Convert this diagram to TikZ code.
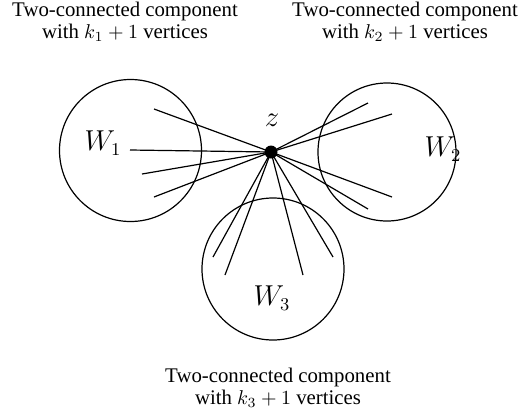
\documentclass[tikz,border=0pt]{standalone}
\usepackage[no-math]{fontspec}
\setmainfont{Liberation Serif}
\usepackage{tikz}
\usetikzlibrary{positioning, calc}

\tikzset{
  comp/.style={draw, circle, line width=0.6pt, minimum size=71pt, inner sep=0pt},
  caption/.style={align=center, font=\fontsize{10.4}{11.1}\selectfont},
  wlabel/.style={font=\fontsize{13.5}{15}\selectfont},
  spoke/.style={line width=0.6pt}
}

\begin{document}
\begin{tikzpicture}[x=0.5pt, y=-0.5pt]
    \useasboundingbox (0,0) rectangle (526,419);

    % the three components
    \node[comp] (c1) at (130.5,150.5) {};
    \node[comp, minimum size=69pt] (c2) at (387,152) {};
    \node[comp] (c3) at (273,269) {};
    \node[wlabel] (w1) at (103,143) {$W_1$};
    \node[wlabel] (w2) at (443,149) {$W_2$};
    \node[wlabel] (w3) at (272,298) {$W_3$};

    % cut vertex
    \node[fill, circle, inner sep=0pt, minimum size=6.5pt] (z) at (271,152) {};
    \node[wlabel] (zl) at (272,120) {$z$};

    % edge ends inside the components
    \coordinate (a1) at (154,109);
    \coordinate (a2) at (130,150);
    \coordinate (a3) at (142,174);
    \coordinate (a4) at (154,197);
    \coordinate (b1) at (368,103);
    \coordinate (b2) at (392,114);
    \coordinate (b3) at (392,197);
    \coordinate (b4) at (368,209);
    \coordinate (d1) at (213,257);
    \coordinate (d2) at (225,275);
    \coordinate (d3) at (303,275);
    \coordinate (d4) at (333,257);
    \foreach \tip in {a1,a2,a3,a4,b1,b2,b3,b4,d1,d2,d3,d4}
      \draw[spoke] (z.center) -- (\tip);

    \node[caption] (t1) at (125,21.5) {Two-connected component\\with $k_1+1$ vertices};
    \node[caption] (t2) at (405,21.5) {Two-connected component\\with $k_2+1$ vertices};
    \node[caption] (t3) at (278,388) {Two-connected component\\with $k_3+1$ vertices};
\end{tikzpicture}
\end{document}
